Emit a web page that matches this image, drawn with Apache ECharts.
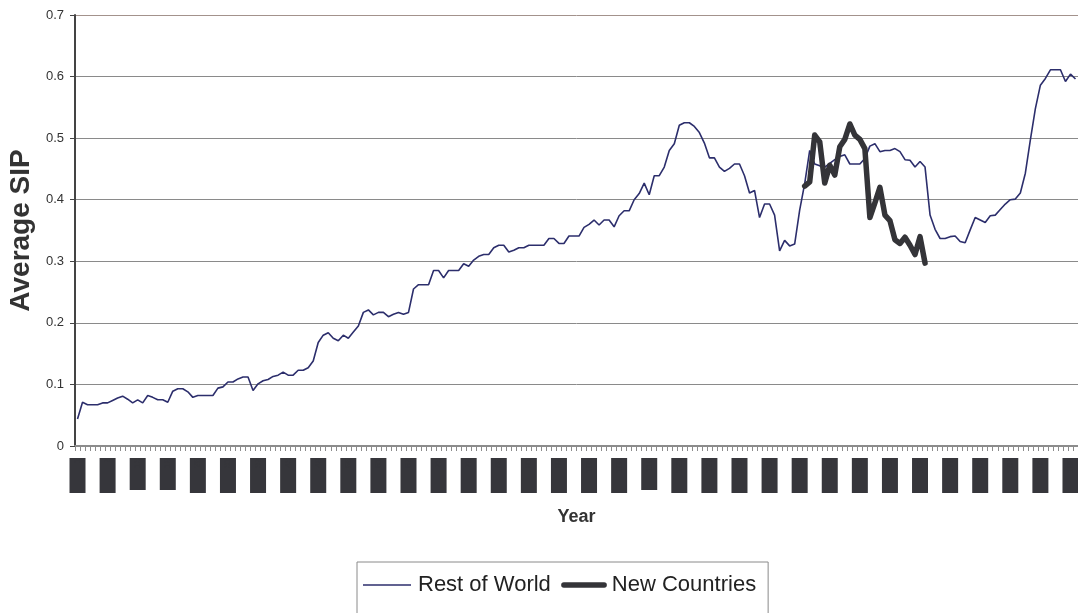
<!DOCTYPE html>
<html>
<head>
<meta charset="utf-8">
<script src="https://cdn.jsdelivr.net/npm/echarts@6/dist/echarts.min.js"></script>
<style>
html,body{margin:0;padding:0;background:#fff;}
#chart{width:1078px;height:613px;}
</style>
</head>
<body>
<div id="chart"></div>
<script>
// ---- data ----
const categoryCount = 200;
const categories = [];
for (let i = 0; i < categoryCount; i++) categories.push(String(i + 1));

const yTicks = [0, 0.1, 0.2, 0.3, 0.4, 0.5, 0.6, 0.7];

const restOfWorld = [
  0.044, 0.071, 0.067, 0.067, 0.067, 0.070, 0.070, 0.074, 0.078, 0.081,
  0.076, 0.070, 0.075, 0.070, 0.082, 0.079, 0.075, 0.075, 0.071, 0.089,
  0.093, 0.093, 0.088, 0.079, 0.082, 0.082, 0.082, 0.082, 0.094, 0.096,
  0.104, 0.104, 0.109, 0.112, 0.112, 0.090, 0.101, 0.106, 0.108, 0.113,
  0.115, 0.120, 0.115, 0.115, 0.123, 0.123, 0.127, 0.138, 0.168, 0.180,
  0.184, 0.175, 0.171, 0.180, 0.175, 0.185, 0.195, 0.217, 0.221, 0.213,
  0.217, 0.217, 0.210, 0.214, 0.217, 0.214, 0.217, 0.255, 0.262, 0.262,
  0.262, 0.285, 0.285, 0.273, 0.285, 0.285, 0.285, 0.296, 0.292, 0.302,
  0.308, 0.311, 0.311, 0.322, 0.326, 0.326, 0.315, 0.318, 0.322, 0.322,
  0.326, 0.326, 0.326, 0.326, 0.337, 0.337, 0.329, 0.329, 0.341, 0.341,
  0.341, 0.355, 0.360, 0.367, 0.359, 0.367, 0.367, 0.356, 0.374, 0.382,
  0.382, 0.400, 0.410, 0.427, 0.408, 0.439, 0.439, 0.453, 0.480, 0.491,
  0.521, 0.525, 0.525, 0.519, 0.509, 0.492, 0.468, 0.468, 0.453, 0.446,
  0.451, 0.458, 0.458, 0.439, 0.411, 0.415, 0.371, 0.393, 0.393, 0.375,
  0.317, 0.334, 0.325, 0.328, 0.383, 0.426, 0.480, 0.458, 0.455, 0.453,
  0.459, 0.465, 0.470, 0.473, 0.458, 0.458, 0.458, 0.467, 0.487, 0.491,
  0.478, 0.480, 0.480, 0.483, 0.478, 0.465, 0.464, 0.453, 0.462, 0.453,
  0.375, 0.352, 0.337, 0.337, 0.340, 0.341, 0.332, 0.330, 0.351, 0.371,
  0.367, 0.363, 0.374, 0.375, 0.384, 0.393, 0.400, 0.401, 0.411, 0.443,
  0.497, 0.548, 0.586, 0.597, 0.611, 0.611, 0.611, 0.592, 0.604, 0.596
];

// New Countries: starts at category index 145
const newCountriesStart = 145;
const newCountriesValues = [
  0.422, 0.429, 0.505, 0.494, 0.427, 0.456, 0.440, 0.486, 0.498, 0.523,
  0.505, 0.498, 0.483, 0.371, 0.395, 0.420, 0.375, 0.366, 0.335, 0.329,
  0.339, 0.326, 0.311, 0.340, 0.297
];

const newCountries = [];
for (let i = 0; i < categoryCount; i++) {
  const k = i - newCountriesStart;
  newCountries.push(k >= 0 && k < newCountriesValues.length ? newCountriesValues[k] : null);
}

// ---- chart ----
const FONT = 'Liberation Sans, Arial, sans-serif';
const shortLabelIdx = [12, 18, 114];
const thinIcon = 'path://M0,0 M50,6 M0,2.2 H48 V3.8 H0 Z';
const thickIcon = 'path://M0,0 M50,6 M7,0.3 H47.3 A2.7,2.7 0 0 1 47.3,5.7 H7 A2.7,2.7 0 0 1 7,0.3 Z';
const chart = echarts.init(document.getElementById('chart'), null, {renderer: 'canvas'});
chart.setOption({
  animation: false,
  backgroundColor: '#ffffff',
  textStyle: {fontFamily: FONT},
  grid: {left: 75, right: 0, top: 15, bottom: 167, containLabel: false, outerBoundsMode: 'none'},
  legend: {
    left: 357, top: 562,
    data: [
      {name: 'Rest of World', icon: thinIcon},
      {name: 'New Countries', icon: thickIcon}
    ],
    borderColor: '#8a8a8a', borderWidth: 1,
    padding: [12, 12, 18, 6],
    itemGap: 6,
    itemWidth: 50, itemHeight: 6,
    symbolKeepAspect: true,
    textStyle: {fontSize: 22, color: '#222', fontFamily: FONT}
  },
  xAxis: {
    type: 'category',
    data: categories,
    boundaryGap: true,
    name: 'Year',
    nameLocation: 'middle',
    nameGap: 62,
    nameTextStyle: {fontSize: 18, fontWeight: 'bold', color: '#333', fontFamily: FONT},
    axisLine: {lineStyle: {color: '#8c8c8c', width: 2}},
    axisTick: {show: true, interval: 0, length: 5, lineStyle: {color: '#8c8c8c', width: 1}},
    axisLabel: {
      interval: 5,
      rotate: 90,
      margin: 12,
      formatter: function (v, idx) {
        return (shortLabelIdx.indexOf(idx) >= 0 ? '{s|' : '{b|') + v + '}';
      },
      rich: {
        b: {width: 35, height: 16, lineHeight: 16, fontSize: 9, color: '#36363b', backgroundColor: '#36363b'},
        s: {width: 32, height: 16, lineHeight: 16, fontSize: 9, color: '#36363b', backgroundColor: '#36363b'}
      }
    },
    splitLine: {show: false}
  },
  yAxis: {
    type: 'value',
    min: 0, max: 0.7, interval: 0.1,
    name: 'Average SIP',
    nameLocation: 'middle',
    nameGap: 39,
    nameTextStyle: {fontSize: 28, fontWeight: 'bold', color: '#333', fontFamily: FONT},
    axisLine: {show: true, lineStyle: {color: '#444', width: 2}},
    axisTick: {show: true, length: 5, lineStyle: {color: '#444'}},
    axisLabel: {
      margin: 11, fontSize: 13, color: '#333', fontFamily: FONT,
      formatter: function (v) {
        const t = yTicks.find(function (x) { return Math.abs(x - v) < 1e-9; });
        return t === undefined ? '' : String(t);
      }
    },
    splitLine: {show: true, lineStyle: {color: ['#8a8a8a','#8a8a8a','#8a8a8a','#8a8a8a','#8a8a8a','#8a8a8a','#8a8a8a','#a3928c'], width: 1}}
  },
  series: [
    {
      name: 'Rest of World', type: 'line', data: restOfWorld,
      symbol: 'none', showSymbol: false,
      lineStyle: {color: '#2c2e6c', width: 1.6},
      itemStyle: {color: '#2c2e6c'}
    },
    {
      name: 'New Countries', type: 'line', data: newCountries,
      symbol: 'none', showSymbol: false, connectNulls: false,
      lineStyle: {color: '#343438', width: 5.5, join: 'round', cap: 'round'},
      itemStyle: {color: '#343438'}
    }
  ]
});
</script>
</body>
</html>
